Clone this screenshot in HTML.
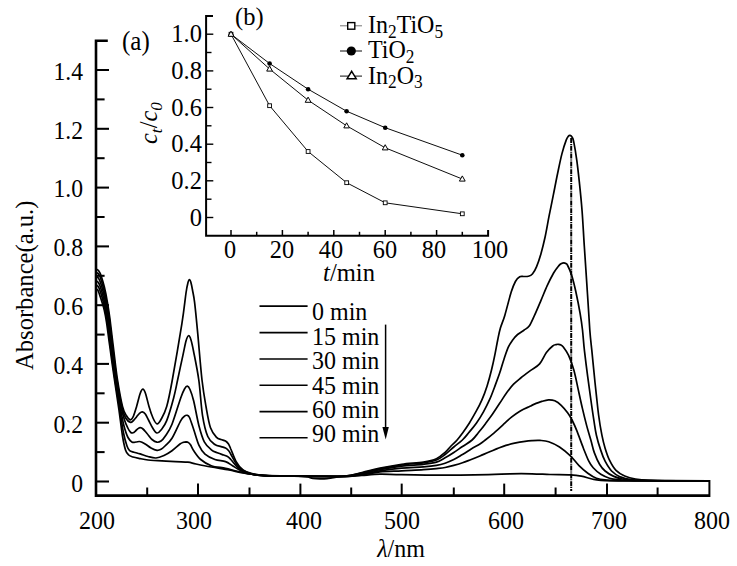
<!DOCTYPE html>
<html><head><meta charset="utf-8"><title>chart</title>
<style>
html,body{margin:0;padding:0;background:#fff;}
body{width:737px;height:566px;position:relative;overflow:hidden;font-family:"Liberation Serif",serif;color:#000;}
.t{position:absolute;white-space:nowrap;line-height:1;}
.t sub{font-size:72%;vertical-align:baseline;position:relative;top:0.25em;line-height:0;}
.rot{position:absolute;white-space:nowrap;line-height:1;transform-origin:left top;}
</style></head><body>
<svg width="737" height="566" viewBox="0 0 737 566" style="position:absolute;left:0;top:0">
<rect width="737" height="566" fill="#fff"/>
<g stroke="#000" fill="none" stroke-linecap="butt">
<path d="M107.8,40.8 H96 V495.6 H709.4" stroke-width="2.6" stroke-linejoin="miter"/>
<path d="M96,481.5 H109.0" stroke-width="2.05"/>
<path d="M96,452.1 H104.6" stroke-width="2.05"/>
<path d="M96,422.7 H109.0" stroke-width="2.05"/>
<path d="M96,393.3 H104.6" stroke-width="2.05"/>
<path d="M96,363.9 H109.0" stroke-width="2.05"/>
<path d="M96,334.6 H104.6" stroke-width="2.05"/>
<path d="M96,305.2 H109.0" stroke-width="2.05"/>
<path d="M96,275.8 H104.6" stroke-width="2.05"/>
<path d="M96,246.4 H109.0" stroke-width="2.05"/>
<path d="M96,217.0 H104.6" stroke-width="2.05"/>
<path d="M96,187.6 H109.0" stroke-width="2.05"/>
<path d="M96,158.2 H104.6" stroke-width="2.05"/>
<path d="M96,128.8 H109.0" stroke-width="2.05"/>
<path d="M96,99.4 H104.6" stroke-width="2.05"/>
<path d="M96,70.0 H109.0" stroke-width="2.05"/>
<path d="M147.2,495.6 V487.5" stroke-width="2"/>
<path d="M198.0,495.6 V483.6" stroke-width="2"/>
<path d="M249.5,495.6 V487.5" stroke-width="2"/>
<path d="M300.4,495.6 V483.6" stroke-width="2"/>
<path d="M351.2,495.6 V487.5" stroke-width="2"/>
<path d="M401.7,495.6 V483.6" stroke-width="2"/>
<path d="M453.8,495.6 V487.5" stroke-width="2"/>
<path d="M504.2,495.6 V483.6" stroke-width="2"/>
<path d="M555.6,495.6 V487.5" stroke-width="2"/>
<path d="M607.0,495.6 V483.6" stroke-width="2"/>
<path d="M657.6,495.6 V487.5" stroke-width="2"/>
<path d="M709.4,497 V480" stroke-width="2"/>
</g>
<g stroke="#000" fill="none" stroke-width="1.7" stroke-linejoin="round" stroke-linecap="round">
<path d="M96.4,269.3 C96.8,269.6 98.0,269.8 98.8,270.9 C99.6,272.0 100.2,273.0 101.1,275.7 C102.0,278.4 103.2,282.3 104.3,286.8 C105.4,291.3 106.6,297.5 107.5,302.8 C108.4,308.1 109.0,311.7 109.9,318.7 C110.8,325.7 111.8,334.8 113.1,345.0 C114.4,355.2 115.9,369.8 117.5,380.0 C119.1,390.2 121.0,400.5 122.5,406.5 C124.0,412.5 125.2,413.6 126.5,415.8 C127.8,418.0 129.3,419.8 130.5,419.8 C131.7,419.8 132.5,418.2 133.5,416.0 C134.5,413.8 135.5,410.2 136.6,406.5 C137.7,402.8 139.0,396.9 140.0,394.0 C141.0,391.1 141.9,389.3 142.8,389.2 C143.7,389.1 144.5,390.6 145.5,393.5 C146.5,396.4 147.8,402.4 149.0,406.5 C150.2,410.6 151.7,415.1 153.0,418.0 C154.3,420.9 155.7,423.6 157.0,423.8 C158.3,424.1 159.4,422.4 161.0,419.5 C162.6,416.6 164.8,413.1 166.7,406.5 C168.6,399.9 169.8,393.8 172.3,380.0 C174.8,366.2 179.6,338.1 181.9,323.6 C184.2,309.1 185.0,299.9 186.0,293.0 C187.0,286.1 187.4,284.8 188.0,282.5 C188.6,280.2 188.8,279.6 189.3,279.5 C189.8,279.4 190.3,280.2 190.8,282.0 C191.3,283.8 191.9,286.6 192.5,290.0 C193.1,293.4 193.7,295.0 194.6,302.4 C195.5,309.8 196.6,321.3 197.8,334.2 C199.0,347.1 200.6,367.9 202.0,380.0 C203.4,392.1 204.6,398.6 206.0,406.5 C207.4,414.4 208.7,422.6 210.5,427.7 C212.3,432.8 214.8,435.4 216.6,437.4 C218.3,439.4 219.5,438.9 221.0,439.5 C222.5,440.1 224.2,440.2 225.5,441.0 C226.8,441.8 227.6,442.7 228.5,444.0 C229.4,445.3 229.6,446.1 230.8,449.0 C232.1,451.9 234.0,457.8 236.0,461.3 C238.0,464.8 240.3,467.9 243.0,470.0 C245.7,472.1 248.5,472.7 252.0,473.6 C255.5,474.5 257.7,475.0 264.0,475.4 C270.3,475.8 280.8,475.9 290.0,476.0 C299.2,476.1 309.8,476.3 319.0,476.3 C328.2,476.3 337.8,476.6 345.0,476.0 C352.2,475.4 356.2,473.8 362.0,472.5 C367.8,471.2 373.4,469.6 380.0,468.2 C386.6,466.8 394.5,465.3 401.7,464.3 C408.9,463.3 417.6,463.0 423.4,462.1 C429.2,461.2 432.8,460.4 436.4,458.8 C440.0,457.2 442.7,454.4 445.1,452.3 C447.5,450.2 449.0,448.1 451.0,446.0 C453.0,443.9 455.1,442.4 457.1,440.0 C459.2,437.6 461.2,434.7 463.3,431.9 C465.4,429.1 467.2,426.5 469.4,423.0 C471.6,419.5 474.4,414.5 476.5,410.7 C478.6,406.9 480.0,404.2 481.8,400.1 C483.6,396.0 485.5,390.9 487.1,385.9 C488.7,380.9 490.2,375.3 491.5,370.0 C492.8,364.7 494.0,359.1 495.0,354.1 C496.0,349.1 496.8,344.4 497.7,340.0 C498.6,335.6 499.2,332.1 500.4,328.0 C501.6,323.9 503.0,321.4 504.8,315.4 C506.6,309.4 509.4,297.8 511.2,292.1 C513.0,286.5 514.0,284.1 515.4,281.5 C516.8,278.9 518.3,277.6 519.7,276.8 C521.1,276.0 522.5,276.6 523.9,276.5 C525.3,276.4 526.8,276.7 528.2,276.3 C529.6,275.9 531.0,275.6 532.4,274.0 C533.8,272.4 535.2,270.0 536.6,266.6 C538.0,263.2 539.5,258.8 540.9,253.9 C542.3,249.0 543.7,243.4 545.1,237.0 C546.5,230.6 547.8,222.5 549.2,215.4 C550.6,208.3 552.1,201.3 553.5,194.2 C554.9,187.1 556.3,179.7 557.7,173.0 C559.1,166.3 560.5,159.4 561.9,153.9 C563.3,148.4 565.1,143.0 566.2,140.1 C567.3,137.2 567.7,137.1 568.3,136.3 C568.9,135.5 569.4,135.2 570.0,135.3 C570.6,135.4 571.2,135.8 571.8,136.8 C572.4,137.8 572.8,137.3 573.6,141.2 C574.4,145.1 575.8,153.2 576.8,160.3 C577.8,167.4 578.6,175.1 579.5,183.6 C580.4,192.1 581.3,200.8 582.1,211.2 C582.9,221.6 583.4,232.2 584.3,246.0 C585.2,259.8 586.6,280.2 587.5,294.2 C588.4,308.2 589.1,320.5 589.8,330.0 C590.5,339.5 591.2,344.1 591.9,351.2 C592.6,358.3 593.3,365.3 594.0,372.4 C594.7,379.5 595.4,386.5 596.2,393.6 C597.0,400.7 597.7,408.1 598.6,415.0 C599.5,421.9 600.8,429.7 601.9,435.2 C603.0,440.7 603.8,444.0 605.1,448.2 C606.4,452.4 607.7,456.5 609.5,460.2 C611.3,463.9 613.5,467.8 616.0,470.4 C618.5,473.0 621.5,474.6 624.7,476.0 C628.0,477.4 631.5,478.3 635.5,479.0 C639.5,479.7 642.9,480.1 648.6,480.4 C654.4,480.7 660.0,480.7 670.0,480.8 C680.0,480.9 702.1,480.8 708.5,480.8"/>
<path d="M96.4,272.5 C96.8,272.8 97.9,273.0 98.6,274.0 C99.3,275.0 99.9,276.1 100.7,278.5 C101.5,280.9 102.6,284.3 103.6,288.5 C104.6,292.7 105.8,298.4 106.8,303.5 C107.8,308.6 108.4,312.1 109.3,319.0 C110.2,325.9 111.1,334.8 112.4,345.0 C113.7,355.2 115.3,369.8 116.9,380.0 C118.5,390.2 120.3,400.1 121.8,406.5 C123.3,412.9 124.5,415.9 126.0,418.5 C127.5,421.1 129.2,422.1 130.5,422.4 C131.8,422.7 132.5,421.4 133.5,420.5 C134.5,419.6 135.5,418.2 136.5,417.0 C137.5,415.8 138.5,414.2 139.5,413.3 C140.5,412.4 141.3,411.7 142.3,411.8 C143.3,411.9 144.3,412.6 145.3,414.0 C146.3,415.4 147.2,417.6 148.5,420.0 C149.8,422.4 151.6,426.3 153.0,428.5 C154.4,430.7 155.7,432.8 157.0,433.0 C158.3,433.2 159.4,432.1 161.0,430.0 C162.6,427.9 164.6,426.0 166.7,420.6 C168.8,415.2 171.9,404.5 173.7,397.7 C175.5,390.9 176.1,387.1 177.6,380.0 C179.1,372.9 181.5,361.9 182.9,355.4 C184.3,348.9 185.1,344.3 186.0,341.0 C186.9,337.7 187.8,335.9 188.6,335.7 C189.4,335.5 190.2,337.4 191.0,340.0 C191.8,342.6 192.2,344.3 193.5,351.0 C194.8,357.7 197.3,369.3 198.8,380.0 C200.3,390.7 201.0,405.9 202.5,415.3 C204.0,424.7 205.7,431.6 207.8,436.5 C209.9,441.4 212.7,442.8 214.9,444.5 C217.1,446.2 219.2,446.0 221.0,446.6 C222.8,447.2 224.2,447.4 225.5,448.0 C226.8,448.6 227.6,449.5 228.5,450.5 C229.4,451.5 229.4,451.8 230.8,454.2 C232.2,456.6 234.8,462.0 237.0,464.8 C239.2,467.6 241.2,469.4 244.0,471.0 C246.8,472.6 250.3,473.7 254.0,474.5 C257.7,475.3 260.0,475.4 266.0,475.6 C272.0,475.9 281.2,475.9 290.0,476.0 C298.8,476.1 309.8,476.3 319.0,476.3 C328.2,476.3 337.8,476.6 345.0,476.0 C352.2,475.4 356.2,474.2 362.0,473.0 C367.8,471.8 373.4,470.1 380.0,468.8 C386.6,467.5 394.5,466.0 401.7,465.0 C408.9,464.0 417.6,463.6 423.4,462.8 C429.2,462.0 432.8,461.4 436.4,460.0 C440.0,458.6 442.2,456.7 445.1,454.5 C448.0,452.3 450.9,449.4 453.8,447.0 C456.7,444.6 459.8,442.5 462.4,440.0 C465.0,437.5 467.0,434.7 469.4,431.9 C471.8,429.1 474.1,426.4 476.5,423.0 C478.9,419.6 481.4,415.6 483.6,411.6 C485.8,407.6 487.9,403.5 489.8,399.2 C491.7,394.9 493.4,390.2 495.0,385.9 C496.6,381.6 498.0,378.0 499.5,373.6 C501.0,369.2 502.4,363.8 503.9,359.4 C505.4,355.0 506.8,350.3 508.3,347.1 C509.8,343.9 511.2,342.1 512.7,340.0 C514.2,337.9 515.7,336.1 517.6,334.5 C519.5,332.9 522.0,331.6 523.9,330.2 C525.8,328.8 527.4,328.5 529.2,326.0 C531.0,323.5 532.5,319.6 534.5,315.4 C536.5,311.2 538.8,305.6 540.9,300.6 C543.0,295.7 545.1,290.3 547.2,285.7 C549.3,281.1 551.7,276.4 553.6,273.0 C555.5,269.6 557.6,267.2 558.9,265.6 C560.2,264.0 560.7,264.0 561.5,263.5 C562.3,263.0 563.1,262.8 563.8,262.8 C564.5,262.8 565.2,263.1 565.8,263.5 C566.4,263.9 566.4,263.1 567.4,265.0 C568.4,266.9 570.2,270.5 571.6,275.0 C573.0,279.5 574.5,285.6 575.9,292.0 C577.3,298.4 579.0,307.0 580.1,313.3 C581.2,319.6 581.8,323.7 582.5,330.0 C583.2,336.3 583.6,343.4 584.5,351.2 C585.4,359.0 586.6,368.5 587.7,376.6 C588.8,384.7 589.9,392.6 590.9,400.0 C591.9,407.4 593.1,415.3 594.0,421.2 C594.9,427.1 595.3,430.3 596.4,435.2 C597.5,440.1 599.3,446.1 600.8,450.4 C602.2,454.7 603.3,457.8 605.1,461.2 C606.9,464.6 609.1,468.4 611.6,471.0 C614.1,473.6 617.0,475.4 620.3,476.9 C623.6,478.3 626.6,479.1 631.2,479.7 C635.8,480.3 641.5,480.3 648.0,480.5 C654.5,480.7 659.9,480.8 670.0,480.8 C680.1,480.9 702.1,480.8 708.5,480.8"/>
<path d="M96.4,276.5 C96.7,276.8 97.8,277.1 98.4,278.0 C99.1,278.9 99.5,279.8 100.3,282.0 C101.1,284.2 102.0,287.2 103.0,291.0 C104.0,294.8 105.2,299.8 106.1,304.5 C107.0,309.2 107.7,312.8 108.6,319.5 C109.5,326.2 110.4,334.9 111.7,345.0 C113.0,355.1 114.7,369.7 116.3,380.0 C117.9,390.3 119.7,400.3 121.1,407.0 C122.5,413.7 123.4,416.5 124.5,420.0 C125.6,423.5 126.8,425.9 127.8,428.0 C128.8,430.1 129.9,431.7 130.8,432.5 C131.7,433.3 132.2,433.1 133.0,432.8 C133.8,432.6 134.7,431.7 135.5,431.0 C136.3,430.3 137.2,429.2 138.0,428.6 C138.8,428.1 139.4,427.6 140.2,427.7 C141.0,427.8 141.9,428.0 143.0,429.0 C144.1,430.0 145.5,431.8 147.0,433.5 C148.5,435.2 150.3,438.1 152.0,439.5 C153.7,440.9 155.5,441.9 157.0,442.2 C158.5,442.4 159.7,441.9 161.0,441.0 C162.3,440.1 163.2,439.3 165.0,436.5 C166.8,433.7 169.4,430.7 172.0,424.2 C174.6,417.7 178.7,403.6 180.8,397.7 C182.9,391.8 183.4,390.9 184.5,389.0 C185.6,387.1 186.4,386.1 187.3,386.2 C188.2,386.3 188.9,387.0 190.0,389.5 C191.1,392.0 192.2,394.9 193.7,401.0 C195.2,407.1 197.2,419.2 199.0,426.0 C200.8,432.8 202.2,437.8 204.3,441.8 C206.4,445.8 209.0,447.9 211.3,449.8 C213.6,451.7 215.9,452.1 218.0,453.0 C220.1,453.9 222.1,454.4 223.7,455.0 C225.3,455.6 226.3,455.8 227.5,456.5 C228.7,457.2 229.1,457.7 230.8,459.5 C232.5,461.3 235.4,465.4 237.8,467.5 C240.2,469.6 242.1,470.7 245.0,471.9 C247.9,473.1 251.2,474.1 255.0,474.8 C258.8,475.5 262.2,475.6 268.0,475.8 C273.8,476.0 281.5,475.9 290.0,476.0 C298.5,476.1 309.8,476.3 319.0,476.3 C328.2,476.3 337.8,476.7 345.0,476.2 C352.2,475.7 356.2,474.6 362.0,473.5 C367.8,472.4 373.4,470.8 380.0,469.6 C386.6,468.4 394.5,467.1 401.7,466.2 C408.9,465.3 417.6,465.0 423.4,464.3 C429.2,463.6 432.8,463.2 436.4,462.1 C440.0,461.0 442.2,459.4 445.1,457.8 C448.0,456.2 450.9,454.4 453.8,452.5 C456.7,450.6 459.4,448.6 462.5,446.5 C465.6,444.4 469.5,442.3 472.1,440.0 C474.7,437.7 476.1,435.5 478.3,432.8 C480.5,430.1 483.0,427.0 485.3,423.9 C487.6,420.8 490.0,417.6 492.4,414.2 C494.8,410.8 497.1,407.1 499.5,403.6 C501.9,400.1 504.1,396.2 506.5,393.0 C508.9,389.8 511.2,386.7 513.6,384.2 C516.0,381.7 518.0,380.2 520.7,378.0 C523.4,375.8 526.9,373.2 530.0,370.9 C533.1,368.5 536.9,367.0 539.6,363.9 C542.3,360.8 544.2,355.5 546.4,352.5 C548.6,349.5 551.1,347.3 552.7,346.0 C554.3,344.7 555.0,344.9 556.0,344.6 C557.0,344.3 557.7,344.2 558.5,344.3 C559.3,344.4 560.2,344.6 561.0,345.0 C561.8,345.4 562.0,345.3 563.3,347.0 C564.6,348.7 566.8,351.5 568.6,355.4 C570.4,359.3 572.3,364.6 573.9,370.3 C575.5,376.0 576.8,383.0 578.2,389.4 C579.6,395.8 581.0,402.4 582.4,408.4 C583.8,414.4 585.2,420.1 586.6,425.4 C588.0,430.7 589.6,435.7 590.9,440.2 C592.2,444.7 592.8,448.6 594.3,452.6 C595.8,456.7 597.9,461.4 599.7,464.5 C601.5,467.6 602.8,469.0 605.1,471.0 C607.5,473.0 610.9,475.1 613.8,476.4 C616.7,477.7 619.6,478.4 622.5,479.0 C625.4,479.6 626.6,480.0 631.2,480.3 C635.8,480.6 637.1,480.6 650.0,480.7 C662.9,480.8 698.8,480.8 708.5,480.8"/>
<path d="M96.4,281.0 C96.7,281.2 97.6,281.5 98.2,282.3 C98.8,283.1 99.3,284.1 100.0,286.0 C100.7,287.9 101.6,290.7 102.5,294.0 C103.4,297.3 104.5,301.7 105.4,306.0 C106.3,310.3 107.0,313.5 107.9,320.0 C108.8,326.5 109.7,335.0 111.0,345.0 C112.3,355.0 114.1,369.5 115.7,380.0 C117.3,390.5 119.0,400.3 120.4,408.0 C121.8,415.7 122.7,421.1 124.0,426.0 C125.3,430.9 126.6,434.8 128.0,437.5 C129.4,440.2 130.9,441.4 132.2,442.2 C133.5,442.9 134.8,442.1 136.0,442.0 C137.2,441.9 138.3,441.5 139.3,441.5 C140.3,441.5 140.9,441.7 142.0,442.2 C143.1,442.7 144.5,443.5 146.0,444.5 C147.5,445.5 149.2,447.0 151.0,448.0 C152.8,449.0 155.3,450.1 157.0,450.3 C158.7,450.5 159.7,450.0 161.0,449.3 C162.3,448.6 163.2,447.8 165.0,446.0 C166.8,444.2 169.4,442.5 172.0,438.3 C174.6,434.1 178.7,424.3 180.8,420.6 C182.9,416.9 183.5,417.1 184.5,416.2 C185.5,415.3 186.2,415.1 187.0,415.3 C187.8,415.5 188.4,415.1 189.5,417.5 C190.6,419.9 192.1,424.9 193.7,429.5 C195.3,434.1 197.1,441.3 199.0,445.4 C200.9,449.5 202.3,451.8 205.0,454.2 C207.7,456.6 211.5,458.3 214.9,459.5 C218.3,460.7 222.6,460.6 225.5,461.6 C228.4,462.6 230.2,464.3 232.5,465.7 C234.8,467.1 237.0,468.7 239.6,470.0 C242.2,471.3 244.9,472.6 248.0,473.5 C251.1,474.4 254.3,474.8 258.0,475.2 C261.7,475.6 264.7,475.8 270.0,475.9 C275.3,476.0 281.8,475.9 290.0,476.0 C298.2,476.1 309.8,476.2 319.0,476.3 C328.2,476.4 337.8,476.8 345.0,476.4 C352.2,476.0 356.2,475.1 362.0,474.2 C367.8,473.3 373.4,471.8 380.0,470.8 C386.6,469.8 394.5,468.9 401.7,468.2 C408.9,467.5 417.6,467.4 423.4,466.9 C429.2,466.4 432.8,466.0 436.4,465.4 C440.0,464.8 442.2,464.2 445.1,463.2 C448.0,462.2 450.9,460.9 453.8,459.5 C456.7,458.1 459.6,456.2 462.5,454.5 C465.4,452.8 468.3,450.8 471.2,449.0 C474.1,447.2 477.5,445.5 479.9,444.0 C482.2,442.5 482.9,441.9 485.3,440.0 C487.7,438.1 491.2,435.3 494.2,432.8 C497.1,430.3 500.1,427.5 503.0,424.8 C505.9,422.1 508.9,419.2 511.8,416.9 C514.8,414.5 517.7,412.5 520.7,410.7 C523.7,408.9 527.9,407.3 530.0,406.3 C532.1,405.3 531.3,405.4 533.3,404.6 C535.3,403.8 539.3,402.2 541.8,401.4 C544.3,400.6 546.3,399.9 548.5,399.8 C550.7,399.7 552.7,399.9 554.8,400.8 C556.9,401.7 559.1,403.3 561.2,405.3 C563.3,407.3 565.8,410.3 567.6,412.7 C569.4,415.1 570.2,416.5 571.8,419.5 C573.3,422.5 575.0,426.1 576.9,430.9 C578.8,435.7 581.4,443.1 583.4,448.2 C585.4,453.2 587.2,457.9 588.8,461.2 C590.4,464.5 591.2,465.6 593.2,467.8 C595.2,470.0 598.1,472.6 600.8,474.3 C603.5,476.0 606.6,477.3 609.5,478.2 C612.4,479.1 614.0,479.3 618.2,479.7 C622.5,480.1 620.0,480.3 635.0,480.5 C650.0,480.7 696.2,480.8 708.5,480.8"/>
<path d="M96.4,285.0 C96.7,285.2 97.4,285.5 98.0,286.3 C98.6,287.1 99.1,288.2 99.8,290.0 C100.5,291.8 101.2,294.1 102.0,297.0 C102.8,299.9 103.8,303.5 104.7,307.5 C105.6,311.5 106.3,314.8 107.2,321.0 C108.1,327.2 109.0,335.2 110.3,345.0 C111.6,354.8 113.5,369.3 115.1,380.0 C116.7,390.7 118.3,400.2 119.7,409.0 C121.1,417.8 122.3,426.8 123.5,433.0 C124.7,439.2 126.0,443.1 127.0,446.0 C128.0,448.9 128.4,449.7 129.6,450.7 C130.8,451.7 132.2,451.7 134.0,452.2 C135.8,452.7 137.9,453.2 140.2,453.9 C142.5,454.6 145.4,455.8 148.0,456.5 C150.6,457.2 153.3,458.2 156.0,458.0 C158.7,457.8 161.3,456.7 164.0,455.5 C166.7,454.3 169.3,452.6 172.0,450.7 C174.7,448.8 178.1,445.4 180.0,444.0 C181.9,442.6 182.5,442.7 183.5,442.3 C184.5,441.9 185.2,441.8 186.0,441.8 C186.8,441.9 187.8,442.1 188.5,442.6 C189.2,443.1 189.6,443.5 190.5,444.8 C191.4,446.1 192.0,448.2 193.7,450.7 C195.4,453.1 197.8,457.0 200.7,459.5 C203.6,462.0 207.2,464.2 211.3,465.7 C215.4,467.2 221.4,467.4 225.5,468.3 C229.6,469.2 232.5,470.2 236.0,471.0 C239.5,471.8 243.0,472.6 246.7,473.3 C250.4,474.0 253.8,474.8 258.0,475.2 C262.2,475.6 266.7,475.8 272.0,475.9 C277.3,476.0 282.2,475.9 290.0,476.0 C297.8,476.1 309.8,476.2 319.0,476.3 C328.2,476.4 337.8,476.8 345.0,476.6 C352.2,476.4 356.2,475.8 362.0,475.0 C367.8,474.2 373.4,472.6 380.0,471.9 C386.6,471.2 394.5,471.2 401.7,470.8 C408.9,470.4 417.6,470.1 423.4,469.7 C429.2,469.3 432.8,469.0 436.4,468.6 C440.0,468.2 442.2,468.0 445.1,467.5 C448.0,467.0 450.9,466.2 453.8,465.4 C456.7,464.6 459.6,463.8 462.5,462.8 C465.4,461.8 468.3,460.6 471.2,459.5 C474.1,458.4 477.0,457.2 479.9,456.0 C482.8,454.8 485.6,453.5 488.5,452.3 C491.4,451.1 494.3,449.8 497.2,448.6 C500.1,447.5 503.0,446.3 505.9,445.4 C508.8,444.5 511.7,443.8 514.6,443.2 C517.5,442.6 520.4,442.0 523.3,441.6 C526.2,441.2 529.2,440.8 532.0,440.6 C534.8,440.4 537.2,440.2 540.0,440.4 C542.8,440.6 545.5,440.6 548.7,441.7 C552.0,442.8 555.9,444.6 559.5,447.0 C563.1,449.4 567.1,452.7 570.4,455.8 C573.6,458.9 576.1,462.7 579.0,465.6 C581.9,468.5 584.9,471.1 587.8,473.2 C590.7,475.3 593.5,477.1 596.4,478.2 C599.3,479.3 600.2,479.5 605.0,479.9 C609.8,480.3 607.8,480.5 625.0,480.6 C642.2,480.8 694.6,480.8 708.5,480.8"/>
<path d="M96.4,289.2 C96.7,289.4 97.5,289.4 98.0,290.3 C98.5,291.2 99.0,293.1 99.6,294.8 C100.2,296.5 100.8,298.1 101.5,300.5 C102.2,302.9 103.2,305.4 104.0,309.0 C104.8,312.6 105.6,316.0 106.5,322.0 C107.4,328.0 108.3,335.3 109.6,345.0 C110.9,354.7 112.9,369.2 114.5,380.0 C116.1,390.8 117.7,400.7 119.0,410.0 C120.3,419.3 121.4,429.3 122.5,436.0 C123.6,442.7 124.5,446.8 125.5,450.0 C126.5,453.2 127.4,453.8 128.7,455.0 C129.9,456.2 131.1,456.4 133.0,457.0 C134.9,457.6 137.7,458.1 140.2,458.6 C142.7,459.1 145.1,459.6 148.0,460.0 C150.9,460.4 153.2,460.4 157.8,460.7 C162.4,461.0 170.5,461.4 175.5,461.6 C180.5,461.9 184.5,461.8 187.9,462.2 C191.3,462.6 192.1,463.2 196.0,464.0 C199.9,464.8 205.8,466.0 211.3,467.0 C216.8,468.0 223.7,469.0 229.0,470.0 C234.3,471.0 238.6,472.1 243.0,472.8 C247.4,473.6 250.7,474.0 255.5,474.5 C260.3,475.0 266.2,475.6 272.0,475.9 C277.8,476.1 285.0,475.9 290.0,476.0 C295.0,476.1 299.0,476.1 302.0,476.3 C305.0,476.5 306.2,476.6 308.0,477.0 C309.8,477.4 311.0,478.1 313.0,478.4 C315.0,478.7 317.7,478.8 320.0,478.8 C322.3,478.8 324.8,478.8 327.0,478.6 C329.2,478.4 330.8,477.9 333.0,477.6 C335.2,477.3 337.5,476.9 340.0,476.7 C342.5,476.5 344.3,476.5 348.0,476.3 C351.7,476.1 356.7,475.9 362.0,475.5 C367.3,475.1 373.4,474.3 380.0,474.2 C386.6,474.1 390.9,474.5 401.7,474.6 C412.5,474.8 430.5,475.1 445.0,475.1 C459.5,475.1 477.7,474.9 488.5,474.7 C499.3,474.5 502.8,473.9 510.0,473.8 C517.2,473.7 525.3,473.7 532.0,473.8 C538.7,473.9 543.6,474.3 550.0,474.5 C556.4,474.7 565.2,474.6 570.4,474.9 C575.6,475.2 577.7,475.5 581.3,476.2 C584.9,476.9 588.8,478.3 592.0,479.0 C595.2,479.7 595.0,480.0 600.8,480.3 C606.6,480.6 608.8,480.7 626.8,480.8 C644.8,480.9 694.9,480.8 708.5,480.8"/>
</g>
<path d="M571.2,138 V491" stroke="#000" stroke-width="2" stroke-dasharray="5,0.9,1,0.9" fill="none"/>
<path d="M259.5,306.1 H307.6" stroke="#000" stroke-width="1.6"/>
<path d="M259.5,332.6 H307.6" stroke="#000" stroke-width="1.6"/>
<path d="M259.5,359.0 H307.6" stroke="#000" stroke-width="1.6"/>
<path d="M259.5,385.2 H307.6" stroke="#000" stroke-width="1.6"/>
<path d="M259.5,411.6 H307.6" stroke="#000" stroke-width="1.6"/>
<path d="M259.5,437.8 H307.6" stroke="#000" stroke-width="1.6"/>
<path d="M385.6,324.6 V430" stroke="#000" stroke-width="1.5"/>
<path d="M382.4,427 L388.8,427 L385.7,439.6 Z" fill="#000"/>
<g stroke="#000" fill="none">
<path d="M213,15.9 H206.1 V235.8 H488.1 V230" stroke-width="2"/>
<path d="M206.1,217.5 H213.3" stroke-width="1.4"/>
<path d="M206.1,199.2 H211.5" stroke-width="1.4"/>
<path d="M206.1,180.8 H213.3" stroke-width="1.4"/>
<path d="M206.1,162.5 H211.5" stroke-width="1.4"/>
<path d="M206.1,144.2 H213.3" stroke-width="1.4"/>
<path d="M206.1,125.8 H211.5" stroke-width="1.4"/>
<path d="M206.1,107.5 H213.3" stroke-width="1.4"/>
<path d="M206.1,89.2 H211.5" stroke-width="1.4"/>
<path d="M206.1,70.9 H213.3" stroke-width="1.4"/>
<path d="M206.1,52.5 H211.5" stroke-width="1.4"/>
<path d="M206.1,34.2 H213.3" stroke-width="1.4"/>
<path d="M231.0,235.8 V230.0" stroke-width="1.5"/>
<path d="M256.7,235.8 V231.8" stroke-width="1.5"/>
<path d="M282.4,235.8 V230.0" stroke-width="1.5"/>
<path d="M308.1,235.8 V231.8" stroke-width="1.5"/>
<path d="M333.8,235.8 V230.0" stroke-width="1.5"/>
<path d="M359.5,235.8 V231.8" stroke-width="1.5"/>
<path d="M385.2,235.8 V230.0" stroke-width="1.5"/>
<path d="M410.9,235.8 V231.8" stroke-width="1.5"/>
<path d="M436.6,235.8 V230.0" stroke-width="1.5"/>
<path d="M462.3,235.8 V231.8" stroke-width="1.5"/>
</g>
<polyline points="231.0,34.2 269.6,105.7 308.1,151.5 346.6,182.7 385.2,202.8 462.3,213.8" stroke="#000" stroke-width="0.95" fill="none"/>
<polyline points="231.0,34.2 269.6,63.5 308.1,89.2 346.6,111.2 385.2,127.7 462.3,155.2" stroke="#000" stroke-width="0.95" fill="none"/>
<polyline points="231.0,34.2 269.6,69.0 308.1,100.2 346.6,125.8 385.2,147.8 462.3,179.0" stroke="#000" stroke-width="0.95" fill="none"/>
<rect x="229.1" y="32.3" width="3.8" height="3.8" fill="#fff" stroke="#000" stroke-width="0.9"/>
<rect x="267.7" y="103.8" width="3.8" height="3.8" fill="#fff" stroke="#000" stroke-width="0.9"/>
<rect x="306.2" y="149.6" width="3.8" height="3.8" fill="#fff" stroke="#000" stroke-width="0.9"/>
<rect x="344.8" y="180.8" width="3.8" height="3.8" fill="#fff" stroke="#000" stroke-width="0.9"/>
<rect x="383.3" y="200.9" width="3.8" height="3.8" fill="#fff" stroke="#000" stroke-width="0.9"/>
<rect x="460.4" y="211.9" width="3.8" height="3.8" fill="#fff" stroke="#000" stroke-width="0.9"/>
<circle cx="231.0" cy="34.2" r="2.3" fill="#000"/>
<circle cx="269.6" cy="63.5" r="2.3" fill="#000"/>
<circle cx="308.1" cy="89.2" r="2.3" fill="#000"/>
<circle cx="346.6" cy="111.2" r="2.3" fill="#000"/>
<circle cx="385.2" cy="127.7" r="2.3" fill="#000"/>
<circle cx="462.3" cy="155.2" r="2.3" fill="#000"/>
<path d="M231.0,31.1 L233.9,36.3 L228.1,36.3 Z" fill="#fff" stroke="#000" stroke-width="1"/>
<path d="M269.6,65.9 L272.4,71.1 L266.7,71.1 Z" fill="#fff" stroke="#000" stroke-width="1"/>
<path d="M308.1,97.1 L311.0,102.3 L305.2,102.3 Z" fill="#fff" stroke="#000" stroke-width="1"/>
<path d="M346.6,122.8 L349.5,127.9 L343.8,127.9 Z" fill="#fff" stroke="#000" stroke-width="1"/>
<path d="M385.2,144.7 L388.1,149.9 L382.3,149.9 Z" fill="#fff" stroke="#000" stroke-width="1"/>
<path d="M462.3,175.9 L465.2,181.1 L459.4,181.1 Z" fill="#fff" stroke="#000" stroke-width="1"/>
<path d="M340,25.8 H362" stroke="#777" stroke-width="1"/>
<path d="M340,51 H362" stroke="#222" stroke-width="1.1"/>
<path d="M340,76.1 H362" stroke="#222" stroke-width="1.1"/>
<rect x="347.7" y="22.6" width="7.1" height="6.6" fill="#fff" stroke="#000" stroke-width="1.4"/>
<circle cx="351.3" cy="51" r="4.6" fill="#000"/>
<path d="M351.7,71.3 L356.2,78.7 L347.1,78.7 Z" fill="#fff" stroke="#000" stroke-width="1.5" stroke-linejoin="miter"/>
</svg>
<div class="t" style="left:82.6px;top:472.4px;font-size:24.90px;transform:translate(-100%,0) scaleX(0.9479);transform-origin:right top;">0</div>
<div class="t" style="left:82.6px;top:412.5px;font-size:24.90px;transform:translate(-100%,0) scaleX(0.9479);transform-origin:right top;">0.2</div>
<div class="t" style="left:82.6px;top:353.7px;font-size:24.90px;transform:translate(-100%,0) scaleX(0.9479);transform-origin:right top;">0.4</div>
<div class="t" style="left:82.6px;top:294.9px;font-size:24.90px;transform:translate(-100%,0) scaleX(0.9479);transform-origin:right top;">0.6</div>
<div class="t" style="left:82.6px;top:236.1px;font-size:24.90px;transform:translate(-100%,0) scaleX(0.9479);transform-origin:right top;">0.8</div>
<div class="t" style="left:82.6px;top:177.3px;font-size:24.90px;transform:translate(-100%,0) scaleX(0.9479);transform-origin:right top;">1.0</div>
<div class="t" style="left:82.6px;top:118.6px;font-size:24.90px;transform:translate(-100%,0) scaleX(0.9479);transform-origin:right top;">1.2</div>
<div class="t" style="left:82.6px;top:59.8px;font-size:24.90px;transform:translate(-100%,0) scaleX(0.9479);transform-origin:right top;">1.4</div>
<div class="t" style="left:96.9px;top:507.8px;font-size:25.32px;transform:translate(-50%,0) scaleX(0.9479);transform-origin:center top;">200</div>
<div class="t" style="left:193.6px;top:507.8px;font-size:25.32px;transform:translate(-50%,0) scaleX(0.9479);transform-origin:center top;">300</div>
<div class="t" style="left:303.8px;top:507.8px;font-size:25.32px;transform:translate(-50%,0) scaleX(0.9479);transform-origin:center top;">400</div>
<div class="t" style="left:401.7px;top:507.8px;font-size:25.32px;transform:translate(-50%,0) scaleX(0.9479);transform-origin:center top;">500</div>
<div class="t" style="left:506.0px;top:507.8px;font-size:25.32px;transform:translate(-50%,0) scaleX(0.9479);transform-origin:center top;">600</div>
<div class="t" style="left:609.0px;top:507.8px;font-size:25.32px;transform:translate(-50%,0) scaleX(0.9479);transform-origin:center top;">700</div>
<div class="t" style="left:711.8px;top:507.8px;font-size:25.32px;transform:translate(-50%,0) scaleX(0.9479);transform-origin:center top;">800</div>
<div class="t" style="left:401.0px;top:536.3px;font-size:25.32px;transform:translate(-50%,0) scaleX(0.9479);transform-origin:center top;"><i>λ</i>/nm</div>
<div class="t" style="left:122.0px;top:28.1px;font-size:26.38px;transform:translate(0,0) scaleX(0.9479);transform-origin:left top;">(a)</div>
<div class="t" style="left:312.2px;top:299.0px;font-size:25.32px;transform:translate(0,0) scaleX(0.9479);transform-origin:left top;">0 min</div>
<div class="t" style="left:312.2px;top:323.8px;font-size:25.32px;transform:translate(0,0) scaleX(0.9479);transform-origin:left top;">15 min</div>
<div class="t" style="left:312.2px;top:348.2px;font-size:25.32px;transform:translate(0,0) scaleX(0.9479);transform-origin:left top;">30 min</div>
<div class="t" style="left:312.2px;top:372.7px;font-size:25.32px;transform:translate(0,0) scaleX(0.9479);transform-origin:left top;">45 min</div>
<div class="t" style="left:312.2px;top:397.4px;font-size:25.32px;transform:translate(0,0) scaleX(0.9479);transform-origin:left top;">60 min</div>
<div class="t" style="left:312.2px;top:420.6px;font-size:25.32px;transform:translate(0,0) scaleX(0.9479);transform-origin:left top;">90 min</div>
<div class="t" style="left:202.4px;top:204.5px;font-size:25.85px;transform:translate(-100%,0) scaleX(0.9479);transform-origin:right top;">0</div>
<div class="t" style="left:202.4px;top:167.8px;font-size:25.85px;transform:translate(-100%,0) scaleX(0.9479);transform-origin:right top;">0.2</div>
<div class="t" style="left:202.4px;top:131.1px;font-size:25.85px;transform:translate(-100%,0) scaleX(0.9479);transform-origin:right top;">0.4</div>
<div class="t" style="left:202.4px;top:94.5px;font-size:25.85px;transform:translate(-100%,0) scaleX(0.9479);transform-origin:right top;">0.6</div>
<div class="t" style="left:202.4px;top:57.8px;font-size:25.85px;transform:translate(-100%,0) scaleX(0.9479);transform-origin:right top;">0.8</div>
<div class="t" style="left:202.4px;top:21.2px;font-size:25.85px;transform:translate(-100%,0) scaleX(0.9479);transform-origin:right top;">1.0</div>
<div class="t" style="left:229.6px;top:237.1px;font-size:25.64px;transform:translate(-50%,0) scaleX(0.9479);transform-origin:center top;">0</div>
<div class="t" style="left:281.8px;top:237.1px;font-size:25.64px;transform:translate(-50%,0) scaleX(0.9479);transform-origin:center top;">20</div>
<div class="t" style="left:331.0px;top:237.1px;font-size:25.64px;transform:translate(-50%,0) scaleX(0.9479);transform-origin:center top;">40</div>
<div class="t" style="left:385.3px;top:237.1px;font-size:25.64px;transform:translate(-50%,0) scaleX(0.9479);transform-origin:center top;">60</div>
<div class="t" style="left:433.8px;top:237.1px;font-size:25.64px;transform:translate(-50%,0) scaleX(0.9479);transform-origin:center top;">80</div>
<div class="t" style="left:489.6px;top:237.1px;font-size:25.64px;transform:translate(-50%,0) scaleX(0.9479);transform-origin:center top;">100</div>
<div class="t" style="left:349.0px;top:259.9px;font-size:25.95px;transform:translate(-50%,0) scaleX(0.9479);transform-origin:center top;"><i>t</i>/min</div>
<div class="t" style="left:234.5px;top:4.0px;font-size:25.85px;transform:translate(0,0) scaleX(0.9479);transform-origin:left top;">(b)</div>
<div class="t" style="left:367.5px;top:12.4px;font-size:25.32px;transform:translate(0,0) scaleX(0.9479);transform-origin:left top;">In<sub>2</sub>TiO<sub>5</sub></div>
<div class="t" style="left:367.5px;top:37.4px;font-size:25.32px;transform:translate(0,0) scaleX(0.9479);transform-origin:left top;">TiO<sub>2</sub></div>
<div class="t" style="left:367.5px;top:62.6px;font-size:25.32px;transform:translate(0,0) scaleX(0.9479);transform-origin:left top;">In<sub>2</sub>O<sub>3</sub></div>
<div class="rot" style="left:13px;top:370px;font-size:24.6px;transform:rotate(-90deg);">Absorbance(a.u.)</div>
<div class="rot" style="left:137px;top:144px;font-size:24.5px;transform:rotate(-90deg);"><i>c<sub style="font-size:70%;vertical-align:baseline;position:relative;top:0.3em;line-height:0">t</sub></i>/<i>c<sub style="font-size:70%;vertical-align:baseline;position:relative;top:0.3em;line-height:0">0</sub></i></div>
</body></html>
